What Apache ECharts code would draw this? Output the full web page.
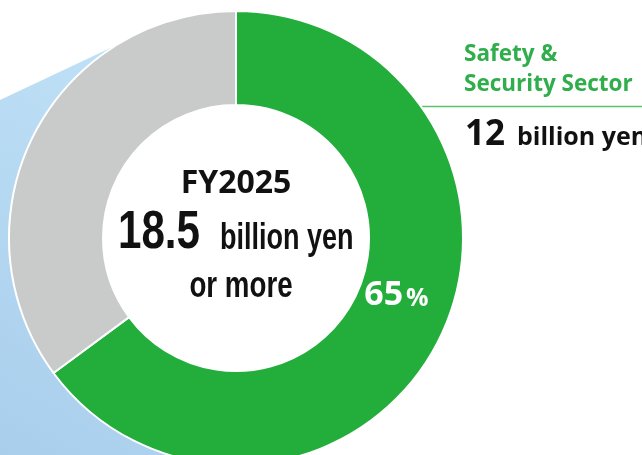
<!DOCTYPE html>
<html>
<head>
<meta charset="utf-8">
<script src="https://cdn.jsdelivr.net/npm/echarts@6/dist/echarts.min.js"></script>
<style>
    html, body { margin: 0; padding: 0; background: #fff; }
    #chart-box { width: 642px; height: 455px; }
</style>
</head>
<body>
<div id="chart-box"></div>
<script>
var sectors = ["Safety & Security Sector", "Other Sectors"];
var values = [12, 6.5];
var colors = ["#23ad3b", "#c9caca"];
var yearLabel = "FY2025";
var totalValue = "18.5";
var unitLabel = "billion yen";
var moreLabel = "or more";
var sectorTitle = ["Safety &", "Security Sector"];

var cx = 236, cy = 238;
var rIn = 133, rOut = 227;
var condensed = "'Liberation Sans', Arial, sans-serif";
var frutiger = "'Open Sans', 'Noto Sans', sans-serif";

var c = echarts.init(document.getElementById("chart-box"), null, {renderer: "canvas"});

// text helper: y is the baseline, middle-aligned text sits ~0.35em above it
function txt(text, x, y, size, color, font, align, sx) {
    return {
        type: "text",
        x: x,
        y: y - size * 0.35,
        scaleX: sx || 1,
        z: 10,
        silent: true,
        style: {
            text: text,
            fill: color,
            font: "bold " + size + "px " + font,
            textAlign: align || "left",
            verticalAlign: "middle"
        }
    };
}

var option = {
    animation: false,
    graphic: [
        {
            // light blue fan behind the ring
            type: "polygon",
            z: 0,
            silent: true,
            shape: {points: [[0, 100], [140, 34], [cx, cy], [cx, 455], [0, 455]]},
            style: {
                fill: new echarts.graphic.LinearGradient(0, 1, 1, 0, [
                    {offset: 0, color: "#a9ceec"},
                    {offset: 1, color: "#c2e4f8"}
                ])
            }
        },
        {
            // hole of the donut stays white
            type: "circle",
            z: 1,
            silent: true,
            shape: {cx: cx, cy: cy, r: rIn},
            style: {fill: "#fff"}
        },
        {
            type: "line",
            z: 0,
            silent: true,
            shape: {x1: 418, y1: 106.5, x2: 642, y2: 106.5},
            style: {stroke: "#5cc16b", lineWidth: 1.5}
        },
        txt(yearLabel, cx, 195, 32, "#111", frutiger, "center"),
        txt(totalValue, 118, 252, 54, "#111", condensed, "left", 0.78),
        txt(unitLabel, 220, 252, 36, "#111", condensed, "left", 0.75),
        txt(moreLabel, 241, 300, 36, "#111", condensed, "center", 0.77),
        txt(sectorTitle[0], 464, 62, 22.5, "#2fae4b", frutiger),
        txt(sectorTitle[1], 464, 92, 22.5, "#2fae4b", frutiger),
        txt(String(values[0]), 465, 147, 35, "#111", frutiger),
        txt(unitLabel, 517, 147, 25, "#111", frutiger)
    ],
    series: [{
        type: "pie",
        silent: true,
        center: [cx, cy],
        radius: [rIn, rOut],
        startAngle: 90,
        clockwise: true,
        avoidLabelOverlap: false,
        itemStyle: {borderColor: "#fff", borderWidth: 2},
        label: {show: false},
        labelLine: {show: false},
        emphasis: {disabled: true},
        data: values.map(function (v, i) {
            var item = {name: sectors[i], value: v, itemStyle: {color: colors[i]}};
            if (i == 0) {
                item.label = {
                    show: true,
                    position: "inside",
                    offset: [-3, -25],
                    formatter: function (p) {
                        return "{a|" + Math.round(p.percent) + "}{b|%}";
                    },
                    rich: {
                        a: {color: "#fff", fontSize: 34, fontWeight: "bold", fontFamily: frutiger},
                        b: {color: "#fff", fontSize: 25, fontWeight: "bold", fontFamily: frutiger, padding: [7, 0, 0, 3]}
                    }
                };
            }
            return item;
        })
    }]
};

c.setOption(option);
</script>
</body>
</html>
